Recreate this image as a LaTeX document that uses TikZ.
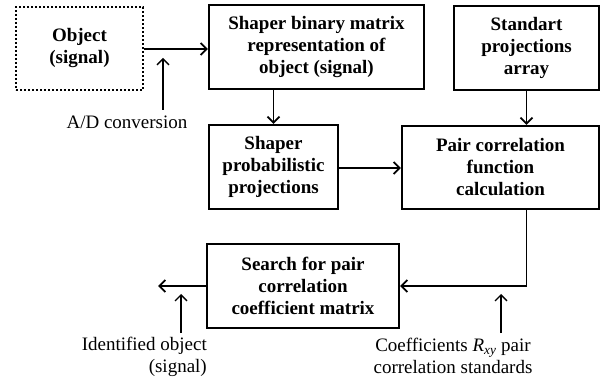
\documentclass[tikz,border=0pt]{standalone}
\usepackage{fontspec}
\setmainfont{Liberation Serif}
\usetikzlibrary{arrows.meta}
\begin{document}
\begin{tikzpicture}[x=1pt,y=-1pt,
  blk/.style={draw,line width=2.2pt,align=center,inner sep=0pt,
    font=\fontsize{19}{22}\selectfont\bfseries},
  lbl/.style={font=\fontsize{19}{22}\selectfont,inner sep=0pt},
  arr/.style={line width=1.8pt,-{Straight Barb[length=6pt,width=12pt,line width=1.8pt]}},
  thin/.style={line width=1.3pt,-{Straight Barb[length=6pt,width=12pt,line width=1.3pt]}}]
\useasboundingbox (0,0) rectangle (600,382);
\node[blk,dash pattern=on 2.4pt off 1.6pt,line width=2.6pt,minimum width=127pt,minimum height=83pt] (obj) at (79.5,48.5) {Object\\(signal)};
\node[blk,minimum width=215pt,minimum height=84pt] (sbm) at (316.5,47) {Shaper binary matrix\\representation of\\object (signal)};
\node[blk,minimum width=145pt,minimum height=84pt] (std) at (526.5,48) {Standart\\projections\\array};
\node[blk,minimum width=129pt,minimum height=84pt] (spp) at (273.5,167) {Shaper\\probabilistic\\projections};
\node[blk,minimum width=197pt,minimum height=83pt] (pair) at (500.5,167.5) {Pair correlation\\function\\calculation};
\node[blk,minimum width=192pt,minimum height=84pt] (srch) at (303,286) {Search for pair\\correlation\\coefficient matrix};
\coordinate (out) at (158,286);
\coordinate (adb) at (163,110);
\coordinate (adt) at (163,58);
\coordinate (idb) at (181,333);
\coordinate (idt) at (181,294);
\coordinate (cfb) at (501,333);
\coordinate (cft) at (501,294);
\draw[arr] (obj.east |- 0,49) -- (sbm.west |- 0,49);
\draw[arr] (spp.north |- sbm.south) -- (spp.north);
\draw[arr] (std.south) -- (std.south |- pair.north);
\draw[arr] (spp.east |- 0,168) -- (pair.west |- 0,168);
\draw[arr] (pair.south -| std.south) |- (srch.east);
\draw[arr] (srch.west) -- (out);
\draw[thin] (adb) -- (adt);
\draw[thin] (idb) -- (idt);
\draw[thin] (cfb) -- (cft);
\node[lbl,anchor=base] (adl) at (127,129) {A/D conversion};
\node[lbl,anchor=north east,align=right] (idl) at (207,337) {Identified object\\(signal)};
\node[lbl,anchor=north,align=center] (cfl) at (453,338) {Coefficients \textit{R}\textsubscript{\textit{xy}} pair\\correlation standards};
\end{tikzpicture}
\end{document}
